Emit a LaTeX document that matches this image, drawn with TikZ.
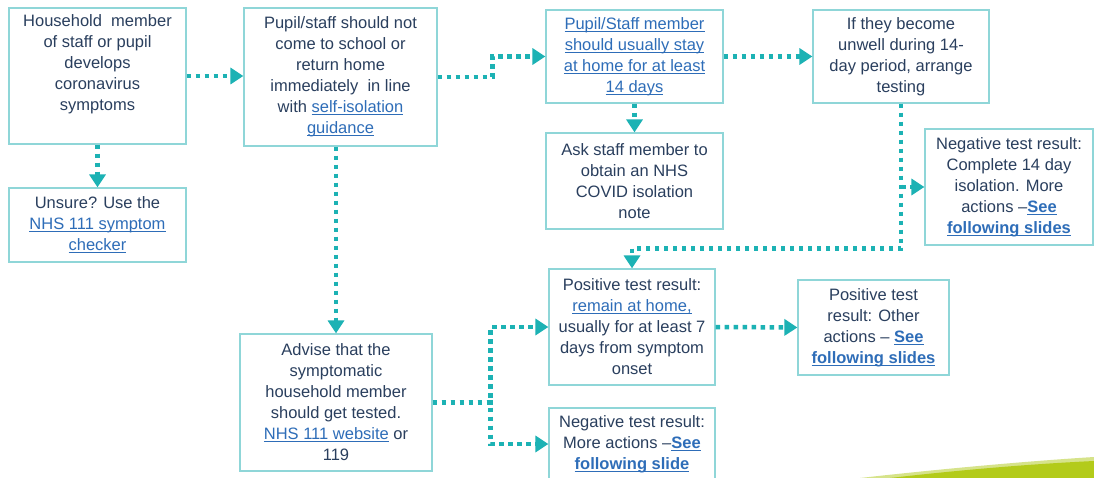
\documentclass[tikz,border=0pt]{standalone}
\usepackage{fontspec}
\setmainfont{Liberation Sans}
\usetikzlibrary{arrows.meta}
\definecolor{teal1}{HTML}{1CB2B4}
\definecolor{boxc}{HTML}{8FD6D8}
\definecolor{txt}{HTML}{2A3F5E}
\definecolor{lnk}{HTML}{2E6DB8}
\definecolor{lime1}{HTML}{B3CB1A}
\definecolor{lime2}{HTML}{D6E38A}
\newcommand{\ulbox}[1]{\setbox0\hbox{#1}\rlap{\rule[-2.2pt]{\wd0}{0.9pt}}\box0}
\newcommand{\lk}[1]{\textcolor{lnk}{\ulbox{#1}}}
\newcommand{\lkb}[1]{\textcolor{lnk}{\ulbox{\textbf{#1}}}}
\tikzset{
  box/.style={draw=boxc, line width=1.2pt, fill=white, align=center, inner sep=0pt,
    text=txt, font=\fontsize{16.5}{21}\selectfont},
  conn/.style={draw=teal1, line width=4.5pt, dash pattern=on 4.5pt off 4.5pt,
    -{Triangle[length=13pt,width=16pt,fill=teal1]}}
}
\begin{document}
\begin{tikzpicture}[x=1pt,y=-1pt]
\useasboundingbox (0,0) rectangle (1094,478);
\fill[white] (0,0) rectangle (1094,478);
% green swoosh
\fill[lime2] (860,478) .. controls (950,468) and (1030,461) .. (1094,457) -- (1094,478) -- cycle;
\fill[lime1] (890,478) .. controls (960,470) and (1030,464) .. (1094,461) -- (1094,478) -- cycle;

\node[box, minimum width=177pt, minimum height=136pt] (hh) at (97.5,76)
  {Household\ \ member\\of staff or pupil\\develops\\coronavirus\\symptoms\\\strut};
\node[box, minimum width=177pt, minimum height=74pt] (unsure) at (97.5,225)
  {Unsure? Use the\\\lk{NHS 111 symptom}\\\lk{checker}};
\node[box, minimum width=193pt, minimum height=138pt] (pupil) at (340.5,77)
  {Pupil/staff should not\\come to school or\\return home\\immediately\ \ in line\\with \lk{self-isolation}\\\lk{guidance}};
\node[box, minimum width=177pt, minimum height=93pt] (stay) at (634.5,56.5)
  {\lk{Pupil/Staff member}\\\lk{should usually stay}\\\lk{at home for at least}\\\lk{14 days}};
\node[box, minimum width=177pt, minimum height=96pt] (ask) at (634.5,181)
  {Ask staff member to\\obtain an NHS\\COVID isolation\\note};
\node[box, minimum width=176pt, minimum height=93pt] (if) at (901,56.5)
  {If they become\\unwell during 14-\\day period, arrange\\testing};
\node[box, minimum width=168pt, minimum height=116pt] (neg1) at (1009,187)
  {Negative test result:\\Complete 14 day\\isolation. More\\actions --\lkb{See}\\\lkb{following slides}};
\node[box, minimum width=166pt, minimum height=116pt] (pos) at (632,327)
  {Positive test result:\\\lk{remain at home,}\\usually for at least 7\\days from symptom\\onset};
\node[box, minimum width=151pt, minimum height=95pt] (pos2) at (873.5,327.5)
  {Positive test\\result: Other\\actions -- \lkb{See}\\\lkb{following slides}};
\node[box, minimum width=192pt, minimum height=137pt] (advise) at (336,402.5)
  {Advise that the\\symptomatic\\household member\\should get tested.\\\lk{NHS 111 website} or\\119};
\node[box, minimum width=166pt, minimum height=72pt] (neg2) at (632,444)
  {Negative test result:\\More actions --\lkb{See}\\\lkb{following slide}};

% connectors
\draw[conn] (hh.east) -- (hh.east -| pupil.west);
\draw[conn] (hh.south) -- (unsure.north);
\draw[conn] (pupil.east) -- ++(55,0) |- (stay.west);
\draw[conn] (stay.south) -- (ask.north);
\draw[conn] (stay.east) -- (if.west);
\draw[conn] (if.south) -- ++(0,145) -| (pos.north);
\draw[conn] (if.south |- neg1.west) -- (neg1.west);
\draw[conn] (advise.north |- pupil.south) -- (advise.north);
\draw[conn] (advise.east) -- ++(58,0) |- (pos.west);
\draw[conn] (advise.east) -- ++(58,0) |- (neg2.west);
\draw[conn] (pos.east) -- (pos2.west);
\end{tikzpicture}
\end{document}
